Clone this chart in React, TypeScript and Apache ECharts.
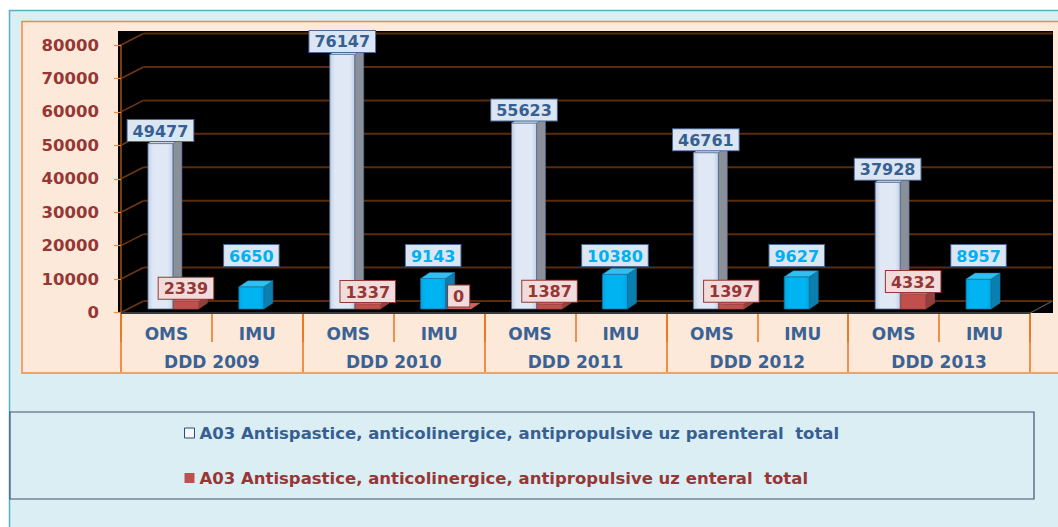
import React, { useEffect, useRef } from "react";
import * as echarts from "echarts";

const years = ["DDD 2009", "DDD 2010", "DDD 2011", "DDD 2012", "DDD 2013"];
const subCategories = ["OMS", "IMU"];
const categories = years.flatMap(() => subCategories);

const parenteralName = "A03 Antispastice, anticolinergice, antipropulsive uz parenteral  total";
const enteralName = "A03 Antispastice, anticolinergice, antipropulsive uz enteral  total";

const parenteral = [49477, 6650, 76147, 9143, 55623, 10380, 46761, 9627, 37928, 8957];
const enteral: (number | null)[] = [2339, null, 1337, 0, 1387, null, 1397, null, 4332, null];

const yTicks = [0, 10000, 20000, 30000, 40000, 50000, 60000, 70000, 80000];

const FONT = '"DejaVu Sans", Verdana, sans-serif';

function barRenderer(kind: "par" | "ent") {
  return (params: any, api: any) => {
    const idx = api.value(0);
    const val = api.value(1);
    const zero = api.coord([idx, 0]);
    const topPt = api.coord([idx, val]);
    const lift = 3.5;
    const base = zero[1] - lift;
    const top = topPt[1] - lift;
    const cx = zero[0];
    const w = 25;
    const x0 = kind === "par" ? cx - 18.5 : cx + 7;
    const x1 = x0 + w;
    const dx = 9;
    const dy = -6;
    const isImu = idx % 2 === 1;
    let front: any, side: string, topC: string, edge: string;
    let lblFill: string, lblBg: string, lblBorder: string;
    if (kind === "par" && !isImu) {
      front = new echarts.graphic.LinearGradient(0, 0, 1, 0, [
        { offset: 0, color: "#c3d1e6" },
        { offset: 0.2, color: "#dfe8f4" },
        { offset: 0.8, color: "#dfe8f4" },
        { offset: 1, color: "#c3d1e6" },
      ]);
      side = "#8b9098";
      topC = "#c9d5e6";
      edge = "#4a6a96";
      lblFill = "#376092";
      lblBg = "#dce6f2";
      lblBorder = "#4a6a96";
    } else if (kind === "par") {
      front = new echarts.graphic.LinearGradient(0, 0, 1, 0, [
        { offset: 0, color: "#00a6e6" },
        { offset: 0.2, color: "#00b4f2" },
        { offset: 0.8, color: "#00b4f2" },
        { offset: 1, color: "#00a6e6" },
      ]);
      side = "#0a7fb0";
      topC = "#2fc0f2";
      edge = "#1a6f9a";
      lblFill = "#00b0f0";
      lblBg = "#dce6f2";
      lblBorder = "#4a6a96";
    } else {
      front = "#c0504d";
      side = "#93403d";
      topC = "#cf6663";
      edge = "#a54442";
      lblFill = "#953735";
      lblBg = "#f2dcdb";
      lblBorder = "#953735";
    }
    const children: any[] = [];
    if (base - top > 0.5) {
      children.push({
        type: "polygon",
        shape: { points: [[x1, base], [x1 + dx, base + dy], [x1 + dx, top + dy], [x1, top]] },
        style: { fill: side, stroke: edge, lineWidth: 0.6 },
      });
      children.push({
        type: "rect",
        shape: { x: x0, y: top, width: w, height: base - top },
        style: { fill: front, stroke: edge, lineWidth: 0.8 },
      });
    }
    children.push({
      type: "polygon",
      shape: { points: [[x0, top], [x0 + dx, top + dy], [x1 + dx, top + dy], [x1, top]] },
      style: { fill: topC, stroke: edge, lineWidth: 0.5 },
    });
    const labelY = kind === "par" && isImu ? base - 43 : top - 2.5;
    children.push({
      type: "text",
      z2: 20,
      style: {
        text: String(val),
        x: (x0 + x1) / 2,
        y: labelY,
        align: "center",
        verticalAlign: "bottom",
        fill: lblFill,
        font: `bold 16px ${FONT}`,
        backgroundColor: lblBg,
        borderColor: lblBorder,
        borderWidth: 1,
        padding: [3, 5, 2, 5],
      },
    });
    return { type: "group", children };
  };
}

function gridRenderer(params: any, api: any) {
  const val = api.value(1);
  const cs = params.coordSys;
  const left = cs.x;
  const right = cs.x + cs.width;
  const y = api.coord([0, val])[1];
  const dx = 22.5;
  const dy = -11.5;
  const children: any[] = [
    {
      type: "line",
      shape: { x1: left, y1: y, x2: left + dx, y2: y + dy },
      style: { stroke: "#6e3812", lineWidth: 1.6 },
    },
    {
      type: "line",
      shape: { x1: left + dx, y1: y + dy, x2: right + dx, y2: y + dy },
      style: { stroke: "#5a2c0c", lineWidth: 2 },
    },
  ];
  if (val === 0) {
    children.push({
      type: "line",
      shape: { x1: right, y1: y + 0.5, x2: right + dx, y2: y + dy },
      style: { stroke: "#555555", lineWidth: 1.2 },
    });
    children.push({
      type: "line",
      shape: { x1: left, y1: y + 0.5, x2: right, y2: y + 0.5 },
      style: { stroke: "#3a3a3a", lineWidth: 2 },
    });
  }
  return { type: "group", children };
}

export default function App() {
  const ref = useRef<HTMLDivElement>(null);
  useEffect(() => {
    if (!ref.current) return;
    const chart = echarts.init(ref.current, undefined, { renderer: "svg" });
    const option: any = {
      animation: false,
      backgroundColor: "#ffffff",
      grid: { left: 121, right: 28, top: 45, bottom: 214.5, containLabel: false },
      graphic: [
        {
          type: "rect",
          z: -10,
          shape: { x: 9.5, y: 10.5, width: 1070, height: 530 },
          style: { fill: "#dbeef4", stroke: "#5aaec6", lineWidth: 1.5 },
        },
        {
          type: "rect",
          z: -9,
          shape: { x: 22, y: 21.5, width: 1060, height: 351.5 },
          style: { fill: "#fde9d9", stroke: "#f08a3c", lineWidth: 1.5 },
        },
        {
          type: "rect",
          z: -8,
          shape: { x: 118, y: 31, width: 935, height: 282 },
          style: { fill: "#000000" },
        },
        {
          type: "rect",
          z: -8,
          shape: { x: 10, y: 412, width: 1024, height: 87 },
          style: { fill: "#dbeef4", stroke: "#3e5273", lineWidth: 1.2 },
        },
      ],
      legend: {
        orient: "vertical",
        left: 184,
        top: 424,
        padding: 0,
        itemWidth: 10,
        itemHeight: 10,
        itemGap: 27,
        icon: "rect",
        selectedMode: false,
        textStyle: { fontFamily: FONT, fontWeight: "bold", fontSize: 16.5, lineHeight: 18 },
        data: [
          {
            name: parenteralName,
            itemStyle: { color: "#f4f7fb", borderColor: "#2c4a78", borderWidth: 1 },
            textStyle: { color: "#376092" },
          },
          {
            name: enteralName,
            itemStyle: { color: "#c0504d", borderWidth: 0 },
            textStyle: { color: "#953735" },
          },
        ],
      },
      xAxis: [
        {
          type: "category",
          data: categories,
          position: "bottom",
          boundaryGap: true,
          axisLine: { show: false },
          axisTick: { show: true, interval: 0, length: 29.5, lineStyle: { color: "#e8701a", width: 1.5 } },
          axisLabel: {
            interval: 0,
            margin: 13,
            color: "#3b6294",
            fontFamily: FONT,
            fontWeight: "bold",
            fontSize: 17,
          },
          splitLine: { show: false },
        },
        {
          type: "category",
          data: years,
          position: "bottom",
          boundaryGap: true,
          axisLine: { show: false },
          axisTick: { show: true, interval: 0, length: 59.5, lineStyle: { color: "#e8701a", width: 1.5 } },
          axisLabel: {
            interval: 0,
            margin: 41,
            color: "#3b6294",
            fontFamily: FONT,
            fontWeight: "bold",
            fontSize: 17,
          },
          splitLine: { show: false },
        },
      ],
      yAxis: {
        type: "value",
        min: 0,
        max: 80000,
        interval: 10000,
        axisLine: { show: true, lineStyle: { color: "#a5520f", width: 1.5 } },
        axisTick: { show: true, length: 7, lineStyle: { color: "#f08a3c", width: 1.2 } },
        axisLabel: {
          margin: 22,
          color: "#953735",
          fontFamily: FONT,
          fontWeight: "bold",
          fontSize: 16.5,
          formatter: (v: number) => String(v),
        },
        splitLine: { show: false },
      },
      series: [
        {
          type: "custom",
          name: "grid",
          silent: true,
          z: 1,
          xAxisIndex: 0,
          renderItem: gridRenderer,
          data: yTicks.map((v) => [0, v]),
        },
        {
          type: "custom",
          name: parenteralName,
          z: 2,
          xAxisIndex: 0,
          itemStyle: { color: "#dce6f2" },
          renderItem: barRenderer("par"),
          data: parenteral.map((v, i) => [i, v]),
        },
        {
          type: "custom",
          name: enteralName,
          z: 3,
          xAxisIndex: 0,
          itemStyle: { color: "#c0504d" },
          renderItem: barRenderer("ent"),
          data: enteral
            .map((v, i) => (v === null ? null : [i, v]))
            .filter((d) => d !== null),
        },
      ],
    };
    chart.setOption(option);
    return () => chart.dispose();
  }, []);
  return (
    <div
      ref={ref}
      style={{ position: "fixed", left: 0, top: 0, width: 1058, height: 527 }}
    />
  );
}
